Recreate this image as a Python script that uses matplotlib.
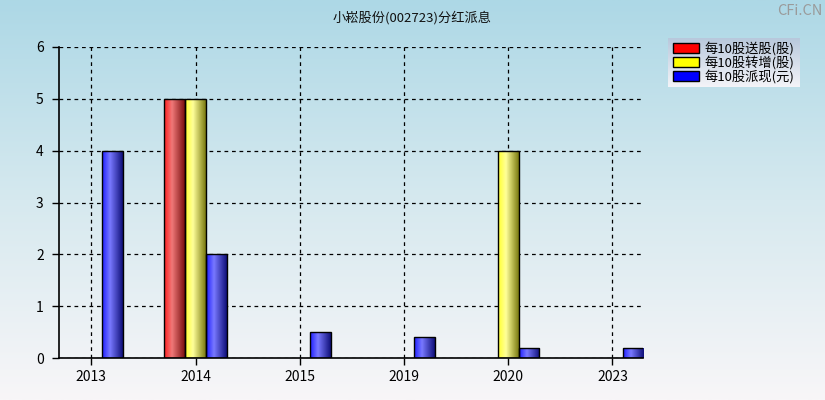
import numpy as np
import matplotlib
matplotlib.use("Agg")
import matplotlib.pyplot as plt
from matplotlib.colors import LinearSegmentedColormap
from matplotlib.patches import Patch

plt.rcParams['font.family'] = ['Noto Sans CJK SC', 'DejaVu Sans']

title = "小崧股份(002723)分红派息"
categories = ["2013", "2014", "2015", "2019", "2020", "2023"]
song = [0, 5, 0, 0, 0, 0]          # 每10股送股(股)
zhuan = [0, 5, 0, 0, 4, 0]         # 每10股转增(股)
pai = [4, 2, 0.5, 0.4, 0.2, 0.2]   # 每10股派现(元)
series_names = ["每10股送股(股)", "每10股转增(股)", "每10股派现(元)"]
series_colors = ["#FF0000", "#FFFF00", "#0000FF"]

fig = plt.figure(figsize=(8.25, 4.0), dpi=100)

# background gradient
bg = fig.add_axes([0, 0, 1, 1], zorder=-10)
bg.axis('off')
bgcmap = LinearSegmentedColormap.from_list('bg', ['#ADD8E6', '#D6E9EF', '#F8F6F8'])
grad = np.linspace(0, 1, 256).reshape(-1, 1)
bg.imshow(grad, aspect='auto', cmap=bgcmap, extent=[0, 1, 0, 1])
bg.set_xlim(0, 1); bg.set_ylim(0, 1)

ax = fig.add_axes([0.0715, 0.105, 0.7075, 0.7775])
ax.patch.set_alpha(0)

x = np.arange(len(categories))
w = 0.2
offsets = [-w, 0, w]
cmaps = [
    LinearSegmentedColormap.from_list('r', [(0, '#FF2020'), (0.38, '#F07878'), (1, '#7A1010')]),
    LinearSegmentedColormap.from_list('y', [(0, '#FFFF30'), (0.38, '#FFFF99'), (1, '#7A7A10')]),
    LinearSegmentedColormap.from_list('b', [(0, '#2020FF'), (0.38, '#7878FF'), (1, '#10107A')]),
]
hgrad = np.linspace(0, 1, 64).reshape(1, -1)
for vals, off, cm in zip([song, zhuan, pai], offsets, cmaps):
    bars = ax.bar(x + off, vals, width=w, facecolor='none', edgecolor='black', linewidth=1.0, zorder=3)
    for b in bars:
        if b.get_height() <= 0:
            b.set_visible(False)
            continue
        im = ax.imshow(hgrad, aspect='auto', cmap=cm,
                       extent=[b.get_x(), b.get_x() + b.get_width(), 0, b.get_height()],
                       zorder=2)
        im.set_clip_path(b)

ax.set_xlim(-0.31, 5.29)
ax.set_ylim(0, 6)
ax.set_xticks(x)
ax.set_xticklabels(categories)
ax.set_yticks(range(0, 7))
ax.grid(True, color='black', linestyle=(0, (3, 3)), linewidth=0.9, zorder=1)
ax.set_axisbelow(True)
for s in ['top', 'right']:
    ax.spines[s].set_visible(False)
for s in ['left', 'bottom']:
    ax.spines[s].set_linewidth(1.2)
    ax.spines[s].set_zorder(4)
ax.tick_params(axis='both', direction='out', length=5, width=1, labelsize=10, colors='black')
ax.tick_params(axis='y', pad=6)

fig.text(0.5, 0.955, title, ha='center', va='center', fontsize=9.5, color='#111111')
fig.text(0.997, 0.972, "CFi.CN", ha='right', va='center', fontsize=10.5, color='#9A9A9A')

# legend
lax = fig.add_axes([668/825, 1 - 87/400, 132/825, 49/400], zorder=5)
lax.axis('off')
lcmap = LinearSegmentedColormap.from_list('lg', ['#B8C8DC', '#F4F4F8'])
lax.imshow(grad, aspect='auto', cmap=lcmap, extent=[0, 1, 0, 1])
lax.set_xlim(0, 1); lax.set_ylim(0, 1)
handles = [Patch(facecolor=c, edgecolor='black', linewidth=1.0) for c in series_colors]
leg = lax.legend(handles, series_names, loc='center left', bbox_to_anchor=(0.0, 0.5),
                 frameon=False, fontsize=9.5, handlelength=2.0, handleheight=0.85,
                 labelspacing=0.0, handletextpad=0.4, borderpad=0.1, borderaxespad=0.25)

fig.savefig("out.png", dpi=100)
